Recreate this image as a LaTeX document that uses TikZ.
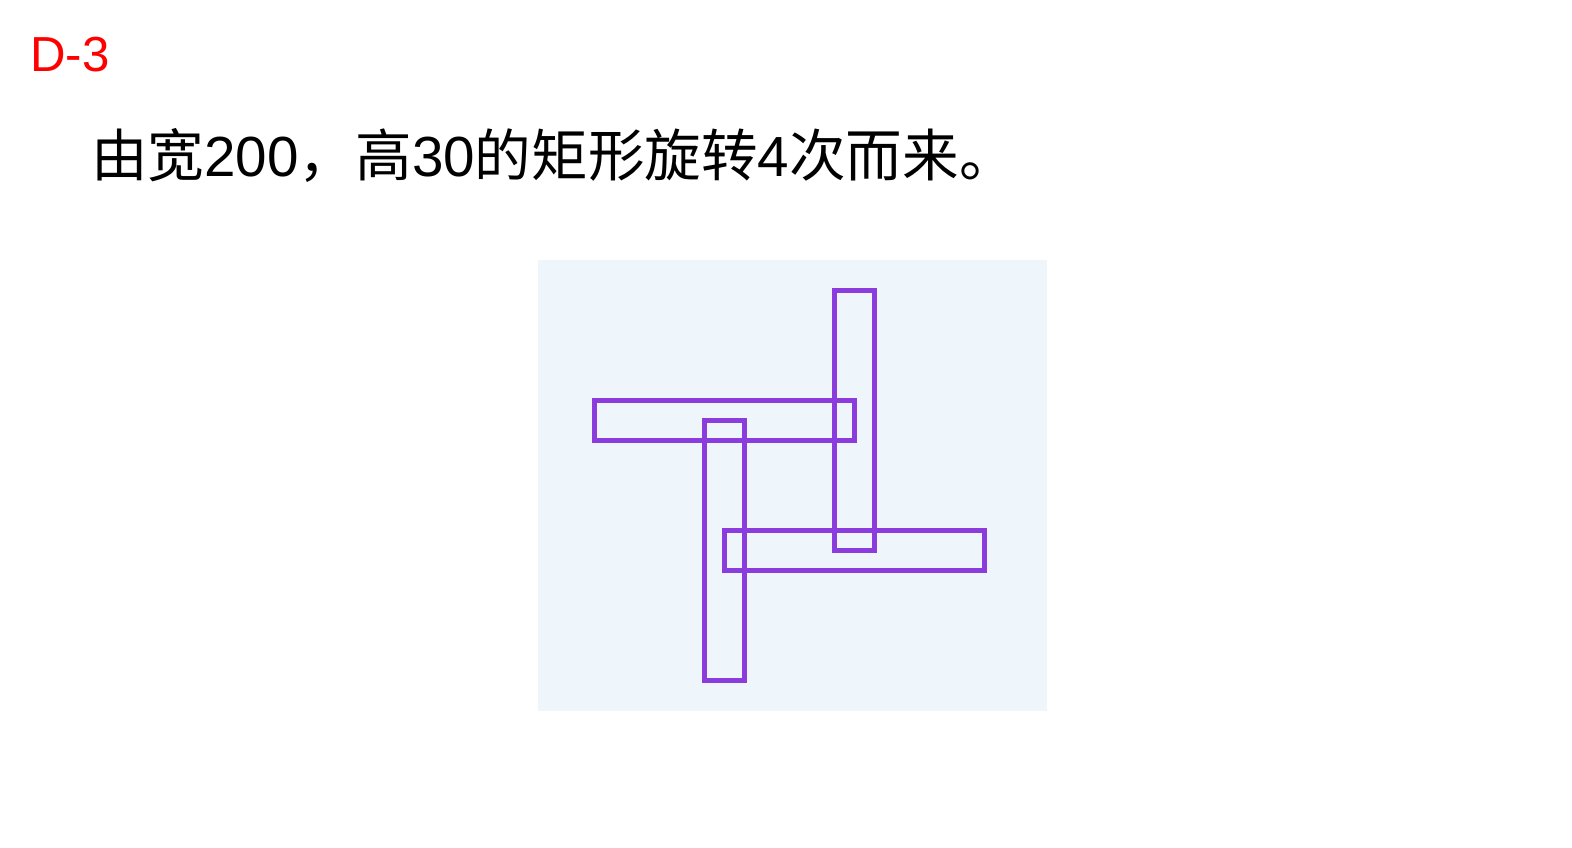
\documentclass[tikz,border=0pt]{standalone}
\usepackage{fontspec}
\setmainfont{Liberation Sans}
\newfontfamily\cjk{Noto Sans CJK SC}
\usepackage{tikz}
\definecolor{panelblue}{HTML}{EEF5FB}
\definecolor{barpurple}{HTML}{8B3CDD}
\newcommand{\zh}[1]{{\cjk #1}}
\tikzset{
	x=0.02cm, y=-0.02cm, % one unit is one pixel of the page, y runs down
	panel/.style={fill=panelblue, draw=none}, % the light backdrop
	bar/.style={draw=barpurple, line width=0.1cm}, % each rotated rectangle
	tag/.style={anchor=base west, inner sep=0pt, text=red, font=\fontsize{28}{32}\selectfont},
	caption/.style={anchor=base west, inner sep=0pt, font=\fontsize{32.2}{36}\selectfont},
}

\begin{document}
\begin{tikzpicture}
	\useasboundingbox[fill=white] (0,0) rectangle (1572,848);
	\node[tag] (label) at (30,72) {D-3};
	\node[caption] (title) at (91,176) {\zh{由宽}200\zh{，高}30\zh{的矩形旋转}4\zh{次而来。}};
	\fill[panel] (538,260) rectangle (1047,711);
	\coordinate (pivot) at (789.5,485.5);
	% the same 200 x 30 rectangle, turned four times round the pivot
	\foreach \turn in {0,90,180,270}
		\draw[bar, shift={(pivot)}, rotate=\turn] (-195,-45) rectangle (65,-85);
\end{tikzpicture}
\end{document}
